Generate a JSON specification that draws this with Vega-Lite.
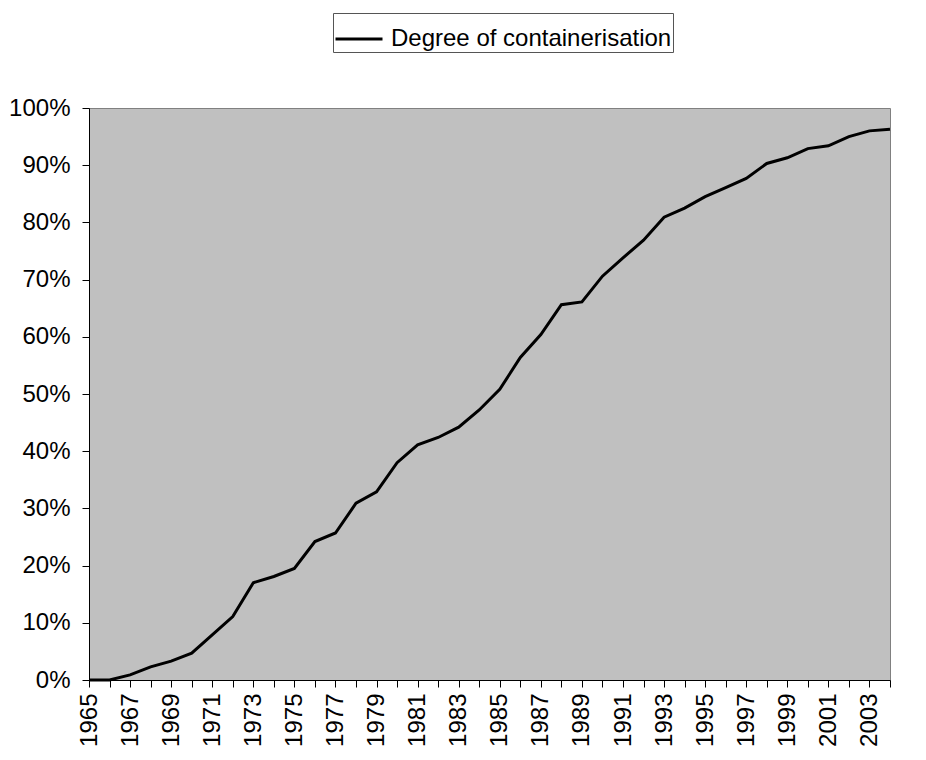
{
  "$schema": "https://vega.github.io/schema/vega-lite/v6.json",
  "width": 801,
  "height": 572,
  "autosize": {"type": "none"},
  "padding": {"left": 89, "top": 108, "right": 36, "bottom": 80},
  "background": "white",
  "config": {
    "font": "Liberation Sans",
    "view": {"fill": "#c0c0c0", "stroke": "#808080", "strokeWidth": 1}
  },
  "data": {
    "values": [
      {"year": 1965, "share": 0},
      {"year": 1966, "share": 0},
      {"year": 1967, "share": 0.009},
      {"year": 1968, "share": 0.023},
      {"year": 1969, "share": 0.033},
      {"year": 1970, "share": 0.047},
      {"year": 1971, "share": 0.079},
      {"year": 1972, "share": 0.111},
      {"year": 1973, "share": 0.170},
      {"year": 1974, "share": 0.181},
      {"year": 1975, "share": 0.195},
      {"year": 1976, "share": 0.242},
      {"year": 1977, "share": 0.257},
      {"year": 1978, "share": 0.309},
      {"year": 1979, "share": 0.329},
      {"year": 1980, "share": 0.380},
      {"year": 1981, "share": 0.411},
      {"year": 1982, "share": 0.424},
      {"year": 1983, "share": 0.442},
      {"year": 1984, "share": 0.472},
      {"year": 1985, "share": 0.508},
      {"year": 1986, "share": 0.564},
      {"year": 1987, "share": 0.604},
      {"year": 1988, "share": 0.656},
      {"year": 1989, "share": 0.661},
      {"year": 1990, "share": 0.706},
      {"year": 1991, "share": 0.738},
      {"year": 1992, "share": 0.769},
      {"year": 1993, "share": 0.809},
      {"year": 1994, "share": 0.825},
      {"year": 1995, "share": 0.845},
      {"year": 1996, "share": 0.861},
      {"year": 1997, "share": 0.877},
      {"year": 1998, "share": 0.903},
      {"year": 1999, "share": 0.913},
      {"year": 2000, "share": 0.929},
      {"year": 2001, "share": 0.934},
      {"year": 2002, "share": 0.950},
      {"year": 2003, "share": 0.960},
      {"year": 2004, "share": 0.963}
    ]
  },
  "mark": {"type": "line", "strokeWidth": 3, "strokeJoin": "miter"},
  "encoding": {
    "x": {
      "field": "year",
      "type": "quantitative",
      "scale": {"domain": [1965, 2004], "nice": false, "zero": false},
      "axis": {
        "title": null,
        "values": [1965,1966,1967,1968,1969,1970,1971,1972,1973,1974,1975,1976,1977,1978,1979,1980,1981,1982,1983,1984,1985,1986,1987,1988,1989,1990,1991,1992,1993,1994,1995,1996,1997,1998,1999,2000,2001,2002,2003,2004],
        "labelExpr": "datum.value % 2 == 1 ? format(datum.value, 'd') : ''",
        "labelAngle": -90,
        "labelAlign": "right",
        "labelBaseline": "middle",
        "labelFontSize": 24,
        "labelColor": "black",
        "labelPadding": 6,
        "labelOverlap": false,
        "labelFlush": false,
        "tickSize": 7,
        "tickColor": "black",
        "domainColor": "black",
        "grid": false
      }
    },
    "y": {
      "field": "share",
      "type": "quantitative",
      "scale": {"domain": [0, 1], "nice": false},
      "axis": {
        "title": null,
        "values": [0, 0.1, 0.2, 0.3, 0.4, 0.5, 0.6, 0.7, 0.8, 0.9, 1],
        "format": ".0%",
        "labelFontSize": 24,
        "labelColor": "black",
        "labelPadding": 12,
        "labelFlush": false,
        "tickSize": 7,
        "tickColor": "black",
        "domainColor": "black",
        "grid": false
      }
    },
    "color": {
      "datum": "Degree of containerisation",
      "type": "nominal",
      "scale": {"range": ["black"]},
      "legend": {
        "title": null,
        "orient": "none",
        "legendX": 244,
        "legendY": -95,
        "symbolType": "stroke",
        "symbolSize": 2209,
        "symbolStrokeWidth": 3,
        "labelFontSize": 24,
        "labelLimit": 0,
        "labelColor": "black",
        "labelOffset": 7,
        "padding": 1,
        "strokeColor": "#555555",
        "fillColor": "white"
      }
    }
  }
}
